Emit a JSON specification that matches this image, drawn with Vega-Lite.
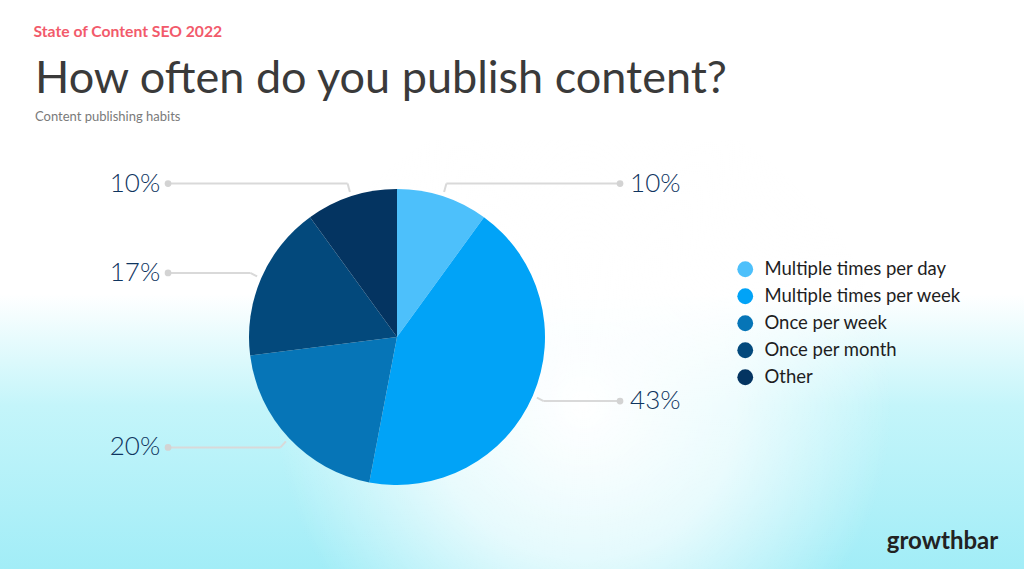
{
  "$schema": "https://vega.github.io/schema/vega-lite/v6.json",
  "width": 1024,
  "height": 429,
  "autosize": {"type": "none"},
  "padding": {"left": 0, "top": 140, "right": 0, "bottom": 0},
  "background": "#ffffff",
  "title": {
    "text": "How often do you publish content?",
    "subtitle": "Content publishing habits",
    "anchor": "start",
    "frame": "group",
    "dx": 35,
    "offset": -101,
    "font": "Lato",
    "fontSize": 45,
    "fontWeight": "normal",
    "color": "#3a3a3a",
    "subtitleFont": "Lato",
    "subtitleFontSize": 13,
    "subtitleColor": "#7a7a7a",
    "subtitlePadding": 9
  },
  "data": {
    "values": [
      {"category": "Multiple times per day", "value": 10},
      {"category": "Multiple times per week", "value": 43},
      {"category": "Once per week", "value": 20},
      {"category": "Once per month", "value": 17},
      {"category": "Other", "value": 10}
    ]
  },
  "transform": [
    {"window": [{"op": "row_number", "as": "idx"}, {"op": "sum", "field": "value", "as": "cum"}], "frame": [null, 0]},
    {"joinaggregate": [{"op": "sum", "field": "value", "as": "total"}]},
    {"calculate": "datum.value/datum.total", "as": "pct"},
    {"calculate": "2*PI*(datum.cum - datum.value/2)/datum.total", "as": "mid"},
    {"calculate": "sin(datum.mid)", "as": "sx"},
    {"calculate": "cos(datum.mid)", "as": "cy"},
    {"calculate": "1.03*datum.sx", "as": "ax"},
    {"calculate": "1.03*datum.cy", "as": "ay"},
    {"calculate": "1.08*datum.sx", "as": "bx"},
    {"calculate": "1.09*datum.cy", "as": "by"},
    {"calculate": "datum.sx > 0 ? 1.507 : -1.547", "as": "cx"},
    {"calculate": "datum.sx > 0 ? 1.575 : -1.6", "as": "lx"}
  ],
  "layer": [
    {
      "transform": [{"filter": "datum.idx == 1"}],
      "mark": {
        "type": "rect",
        "fill": {
          "gradient": "linear", "x1": 0, "y1": 0, "x2": 0, "y2": 1,
          "stops": [
            {"offset": 0, "color": "#ffffff"},
            {"offset": 0.36, "color": "#ffffff"},
            {"offset": 0.62, "color": "#c4f5fa"},
            {"offset": 1, "color": "#a2edf7"}
          ]
        }
      },
      "encoding": {
        "x": {"value": 0},
        "x2": {"value": "width"},
        "y": {"value": 0},
        "y2": {"value": "height"}
      }
    },
    {
      "transform": [{"filter": "datum.idx == 1"}],
      "mark": {
        "type": "rect",
        "fill": {
          "gradient": "radial", "x1": 0.57, "y1": 0.55, "r1": 0, "x2": 0.57, "y2": 0.55, "r2": 0.3,
          "stops": [
            {"offset": 0, "color": "rgba(255,255,255,1)"},
            {"offset": 0.5, "color": "rgba(255,255,255,0.7)"},
            {"offset": 1, "color": "rgba(255,255,255,0)"}
          ]
        }
      },
      "encoding": {
        "x": {"value": 0},
        "x2": {"value": "width"},
        "y": {"value": 0},
        "y2": {"value": "height"}
      }
    },
    {
      "mark": {"type": "arc", "outerRadius": 148, "stroke": null},
      "encoding": {
        "theta": {"field": "value", "type": "quantitative", "stack": true},
        "order": {"field": "idx", "type": "quantitative"},
        "color": {
          "field": "category",
          "type": "nominal",
          "scale": {
            "domain": ["Multiple times per day", "Multiple times per week", "Once per week", "Once per month", "Other"],
            "range": ["#4dc0fb", "#01a3f7", "#0675b7", "#03497c", "#043461"]
          },
          "legend": {
            "title": null,
            "orient": "none",
            "legendX": 736,
            "legendY": 120,
            "symbolType": "circle",
            "symbolSize": 250,
            "symbolStrokeWidth": 0,
            "labelFont": "Lato",
            "labelFontSize": 18.5,
            "labelColor": "#1e1e1e",
            "labelLimit": 400,
            "rowPadding": 8,
            "labelOffset": 10
          }
        },
        "x": {"datum": 0, "type": "quantitative", "scale": {"domain": [-2.6824, 4.2365], "nice": false, "zero": false}},
        "y": {"datum": 0, "type": "quantitative", "scale": {"domain": [-1.5676, 1.3311], "nice": false, "zero": false}}
      }
    },
    {
      "mark": {"type": "rule", "color": "#d9d9d9", "strokeWidth": 2},
      "encoding": {
        "x": {"field": "ax", "type": "quantitative", "scale": {"domain": [-2.6824, 4.2365], "nice": false, "zero": false}},
        "y": {"field": "ay", "type": "quantitative", "scale": {"domain": [-1.5676, 1.3311], "nice": false, "zero": false}},
        "x2": {"field": "bx"},
        "y2": {"field": "by"}
      }
    },
    {
      "mark": {"type": "rule", "color": "#d9d9d9", "strokeWidth": 2},
      "encoding": {
        "x": {"field": "bx", "type": "quantitative", "scale": {"domain": [-2.6824, 4.2365], "nice": false, "zero": false}},
        "y": {"field": "by", "type": "quantitative", "scale": {"domain": [-1.5676, 1.3311], "nice": false, "zero": false}},
        "x2": {"field": "cx"},
        "y2": {"field": "by"}
      }
    },
    {
      "mark": {"type": "circle", "size": 45, "color": "#d3d3d3", "opacity": 1},
      "encoding": {
        "x": {
          "field": "cx", "type": "quantitative",
          "scale": {"domain": [-2.6824, 4.2365], "nice": false, "zero": false},
          "axis": {
            "orient": "bottom",
            "title": "growthbar",
            "zindex": 2,
            "domain": false, "ticks": false, "labels": false, "grid": false,
            "titleX": 942, "titleY": -28, "titleAlign": "center", "titleBaseline": "middle",
            "titleFont": "Lato", "titleFontSize": 24, "titleFontWeight": "bold", "titleColor": "#222222"
          }
        },
        "y": {
          "field": "by", "type": "quantitative",
          "scale": {"domain": [-1.5676, 1.3311], "nice": false, "zero": false},
          "axis": {
            "orient": "left",
            "title": "State of Content SEO 2022",
            "zindex": 2,
            "domain": false, "ticks": false, "labels": false, "grid": false,
            "titleX": 33, "titleY": -109, "titleAngle": 0, "titleAlign": "left", "titleBaseline": "middle",
            "titleFont": "Lato", "titleFontSize": 15.7, "titleFontWeight": "bold", "titleColor": "#f25a6b"
          }
        }
      }
    },
    {
      "transform": [{"filter": "datum.sx > 0"}],
      "mark": {"type": "text", "align": "left", "baseline": "middle", "font": "Lato", "fontSize": 26, "fontWeight": 300, "color": "#0f355f"},
      "encoding": {
        "x": {"field": "lx", "type": "quantitative", "scale": {"domain": [-2.6824, 4.2365], "nice": false, "zero": false}},
        "y": {"field": "by", "type": "quantitative", "scale": {"domain": [-1.5676, 1.3311], "nice": false, "zero": false}},
        "text": {"field": "pct", "type": "quantitative", "format": ".0%"}
      }
    },
    {
      "transform": [{"filter": "datum.sx <= 0"}],
      "mark": {"type": "text", "align": "right", "baseline": "middle", "font": "Lato", "fontSize": 26, "fontWeight": 300, "color": "#0f355f"},
      "encoding": {
        "x": {"field": "lx", "type": "quantitative", "scale": {"domain": [-2.6824, 4.2365], "nice": false, "zero": false}},
        "y": {"field": "by", "type": "quantitative", "scale": {"domain": [-1.5676, 1.3311], "nice": false, "zero": false}},
        "text": {"field": "pct", "type": "quantitative", "format": ".0%"}
      }
    }
  ],
  "config": {
    "view": {"stroke": null},
    "axis": {"domain": false, "ticks": false, "labels": false, "grid": false}
  }
}
